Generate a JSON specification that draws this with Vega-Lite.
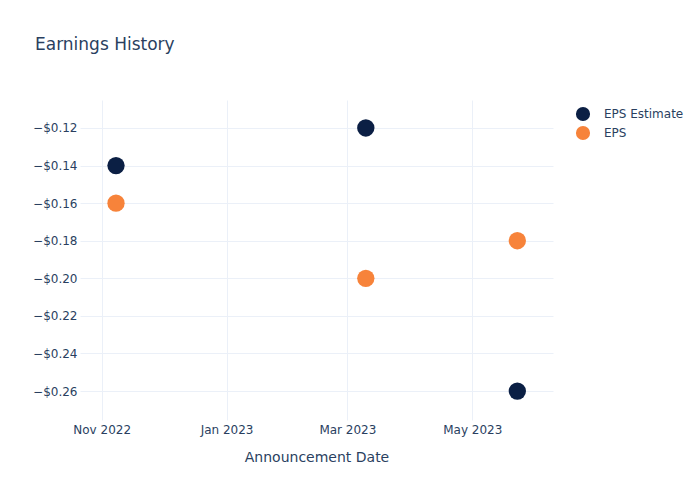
{
  "$schema": "https://vega.github.io/schema/vega-lite/v6.json",
  "autosize": {"type": "none"},
  "padding": {"left": 80, "top": 100, "right": 147, "bottom": 80},
  "width": 473,
  "height": 320,
  "background": "white",
  "config": {
    "font": "DejaVu Sans",
    "view": {"stroke": null}
  },
  "title": {
    "text": "Earnings History",
    "anchor": "start",
    "frame": "group",
    "dx": -45,
    "offset": 46,
    "fontSize": 17,
    "fontWeight": "normal",
    "color": "#2a3f5f",
    "font": "DejaVu Sans"
  },
  "data": {
    "values": [
      {"date": "2022-11-08", "series": "EPS Estimate", "value": -0.14},
      {"date": "2022-11-08", "series": "EPS", "value": -0.16},
      {"date": "2023-03-10", "series": "EPS Estimate", "value": -0.12},
      {"date": "2023-03-10", "series": "EPS", "value": -0.20},
      {"date": "2023-05-23", "series": "EPS Estimate", "value": -0.26},
      {"date": "2023-05-23", "series": "EPS", "value": -0.18}
    ]
  },
  "mark": {"type": "circle", "size": 300, "opacity": 1},
  "encoding": {
    "x": {
      "field": "date",
      "type": "temporal",
      "title": "Announcement Date",
      "scale": {
        "type": "utc",
        "domain": [
          {"year": 2022, "month": 10, "date": 21, "hours": 10, "utc": true},
          {"year": 2023, "month": 6, "date": 9, "hours": 10, "utc": true}
        ]
      },
      "axis": {
        "values": [
          {"year": 2022, "month": 11, "date": 1, "utc": true},
          {"year": 2023, "month": 1, "date": 1, "utc": true},
          {"year": 2023, "month": 3, "date": 1, "utc": true},
          {"year": 2023, "month": 5, "date": 1, "utc": true}
        ],
        "format": "%b %Y",
        "labelFontSize": 12,
        "labelColor": "#2a3f5f",
        "labelPadding": 4,
        "titleFontSize": 14,
        "titleFontWeight": "normal",
        "titleColor": "#2a3f5f",
        "titlePadding": 15,
        "ticks": false,
        "domain": false,
        "grid": true,
        "gridColor": "#ebf0f8",
        "gridWidth": 1,
        "labelFlush": false
      }
    },
    "y": {
      "field": "value",
      "type": "quantitative",
      "title": null,
      "scale": {"domain": [-0.2754, -0.1051], "nice": false, "zero": false},
      "axis": {
        "values": [-0.12, -0.14, -0.16, -0.18, -0.2, -0.22, -0.24, -0.26],
        "format": "$.2f",
        "labelFontSize": 12,
        "labelColor": "#2a3f5f",
        "labelPadding": 3,
        "ticks": false,
        "domain": false,
        "grid": true,
        "gridColor": "#ebf0f8",
        "gridWidth": 1
      }
    },
    "color": {
      "field": "series",
      "type": "nominal",
      "scale": {"domain": ["EPS Estimate", "EPS"], "range": ["#0b1f44", "#f7833a"]},
      "legend": {
        "title": null,
        "orient": "none",
        "legendX": 495,
        "legendY": 6,
        "padding": 0,
        "symbolType": "circle",
        "symbolSize": 200,
        "symbolOpacity": 1,
        "labelFontSize": 12,
        "labelColor": "#2a3f5f",
        "labelOffset": 13,
        "rowPadding": 3
      }
    }
  }
}
